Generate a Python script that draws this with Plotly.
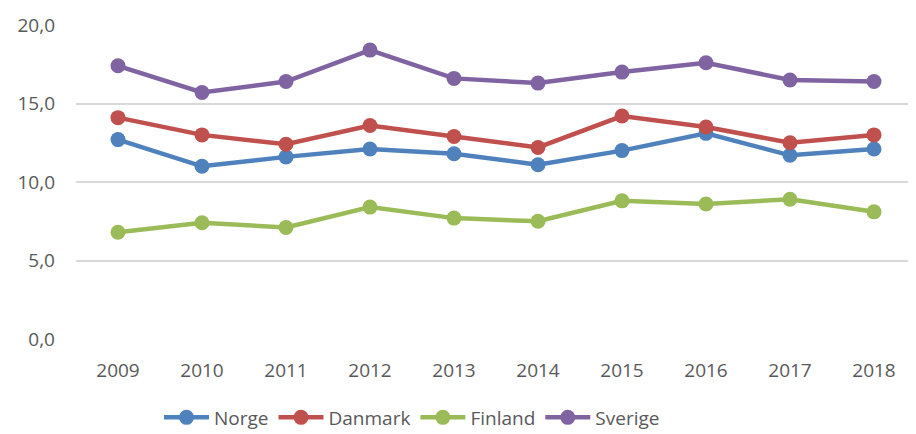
import plotly.graph_objects as go

# Data
YEARS = ["2009", "2010", "2011", "2012", "2013", "2014", "2015", "2016", "2017", "2018"]
NORGE = [12.7, 11.0, 11.6, 12.1, 11.8, 11.1, 12.0, 13.1, 11.7, 12.1]
DANMARK = [14.1, 13.0, 12.4, 13.6, 12.9, 12.2, 14.2, 13.5, 12.5, 13.0]
FINLAND = [6.8, 7.4, 7.1, 8.4, 7.7, 7.5, 8.8, 8.6, 8.9, 8.1]
SVERIGE = [17.4, 15.7, 16.4, 18.4, 16.6, 16.3, 17.0, 17.6, 16.5, 16.4]

COLORS = {
    'Norge': '#4F81BD',
    'Danmark': '#C0504D',
    'Finland': '#9BBB59',
    'Sverige': '#8064A2',
}

fig = go.Figure()

for name, vals in [('Norge', NORGE), ('Danmark', DANMARK),
                   ('Finland', FINLAND), ('Sverige', SVERIGE)]:
    fig.add_trace(go.Scatter(
        x=YEARS, y=vals, name=name,
        mode='lines+markers',
        line=dict(color=COLORS[name], width=4.5),
        marker=dict(color=COLORS[name], size=15),
    ))

# page body has an 8px margin, so the figure is a bit smaller than the window
fig.update_layout(
    width=908, height=426,
    template='plotly_white',
    paper_bgcolor='white', plot_bgcolor='white',
    font=dict(family='Open Sans, Liberation Sans, sans-serif', size=19, color='#595959'),
    margin=dict(l=68, r=0, t=17, b=95, autoexpand=False),
    showlegend=True,
    legend=dict(orientation='h', xanchor='center', x=0.4,
                yanchor='middle', y=-0.25, font=dict(size=19),
                itemwidth=45, tracegroupgap=0),
    xaxis=dict(showgrid=False, showline=False, zeroline=False, automargin=False,
               ticks='', range=[-0.5, 9.5], ticklabelstandoff=18),
    yaxis=dict(range=[0, 20], dtick=5, tickformat='.1f', automargin=False,
               gridcolor='#D9D9D9', gridwidth=1.5,
               zeroline=False, showline=False, ticks='', ticklabelstandoff=20),
    separators=',.',
)

fig.write_html("out.html")
